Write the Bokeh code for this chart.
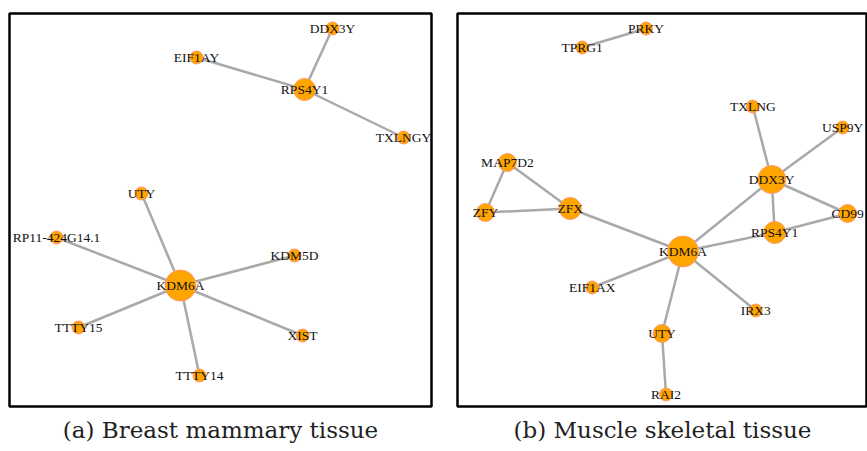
from bokeh.plotting import figure
from bokeh.layouts import row
from bokeh.models import Range1d, ColumnDataSource
from bokeh.core.properties import value
from bokeh.embed import file_html
from bokeh.resources import INLINE

# ---------------- data: panel (a) Breast mammary tissue ----------------
a_nodes = ["DDX3Y", "EIF1AY", "RPS4Y1", "TXLNGY", "UTY", "RP11-424G14.1",
           "KDM5D", "KDM6A", "TTTY15", "XIST", "TTTY14"]
a_x = [323, 187, 295, 394, 132, 47, 285, 171, 69, 293, 190]
a_y = [15, 44, 76, 124, 180, 224, 242, 272, 314, 322, 362]
a_edges = [("EIF1AY", "RPS4Y1"), ("DDX3Y", "RPS4Y1"), ("RPS4Y1", "TXLNGY"),
           ("KDM6A", "UTY"), ("KDM6A", "RP11-424G14.1"), ("KDM6A", "KDM5D"),
           ("KDM6A", "TTTY15"), ("KDM6A", "XIST"), ("KDM6A", "TTTY14")]
a_caption = "(a) Breast mammary tissue"

# ---------------- data: panel (b) Muscle skeletal tissue ----------------
b_nodes = ["PRKY", "TPRG1", "TXLNG", "USP9Y", "MAP7D2", "DDX3Y", "ZFY", "ZFX",
           "CD99", "RPS4Y1", "KDM6A", "EIF1AX", "IRX3", "UTY", "RAI2"]
b_x = [189, 125, 296, 386, 50, 315, 28, 113, 391, 318, 226, 135, 299, 205, 209]
b_y = [15, 34, 93, 114, 149, 166, 199, 195, 200, 219, 238, 274, 297, 320, 381]
b_edges = [("PRKY", "TPRG1"), ("TXLNG", "DDX3Y"), ("USP9Y", "DDX3Y"),
           ("DDX3Y", "CD99"), ("DDX3Y", "RPS4Y1"), ("DDX3Y", "KDM6A"),
           ("MAP7D2", "ZFY"), ("MAP7D2", "ZFX"), ("ZFY", "ZFX"),
           ("ZFX", "KDM6A"), ("KDM6A", "RPS4Y1"), ("RPS4Y1", "CD99"),
           ("KDM6A", "EIF1AX"), ("KDM6A", "IRX3"), ("KDM6A", "UTY"),
           ("UTY", "RAI2")]
b_caption = "(b) Muscle skeletal tissue"

# node diameter (px) by degree
DIAM = {1: 13, 2: 18, 3: 22, 4: 25, 5: 28, 6: 31}


def make_panel(nodes, xs, ys, edges, caption, width, frame_w, bl, br):
    frame_h = 393
    p = figure(width=width, height=451, output_backend="svg",
               toolbar_location=None, title=caption, title_location="below",
               x_axis_location=None, y_axis_location=None,
               x_range=Range1d(0, frame_w), y_range=Range1d(frame_h, 0),
               min_border_left=bl, min_border_right=br,
               min_border_top=13, min_border_bottom=45)
    p.grid.visible = False
    p.outline_line_color = "black"
    p.outline_line_width = 2.5
    p.background_fill_color = "white"
    p.border_fill_color = "white"
    p.title.align = "center"
    p.title.text_font = "DejaVu Serif"
    p.title.text_font_style = "normal"
    p.title.text_font_size = "23px"
    p.title.text_color = "#222222"
    p.title.standoff = 16

    pos = {n: (x, y) for n, x, y in zip(nodes, xs, ys)}
    deg = {n: 0 for n in nodes}
    for s, t in edges:
        deg[s] += 1
        deg[t] += 1
    es = ColumnDataSource(dict(
        x0=[pos[s][0] for s, t in edges], y0=[pos[s][1] for s, t in edges],
        x1=[pos[t][0] for s, t in edges], y1=[pos[t][1] for s, t in edges]))
    p.segment("x0", "y0", "x1", "y1", source=es, line_color="#a9a9a9",
              line_width=2.5)
    ns = ColumnDataSource(dict(x=xs, y=ys, name=nodes,
                               size=[DIAM[deg[n]] for n in nodes]))
    p.scatter("x", "y", size="size", source=ns, fill_color="#FFA500",
              line_color="#ff9a70", line_width=1)
    p.text("x", "y", text="name", source=ns, text_align="center",
           text_baseline="middle", text_font=value("Liberation Serif"),
           text_font_size="13.5px", text_color="#111111")
    return p


pa = make_panel(a_nodes, a_x, a_y, a_edges, a_caption, 444, 422, 9, 13)
pb = make_panel(b_nodes, b_x, b_y, b_edges, b_caption, 423, 411, 13, 0)

layout = row(pa, pb)
open("out.html", "w").write(file_html(layout, INLINE))
